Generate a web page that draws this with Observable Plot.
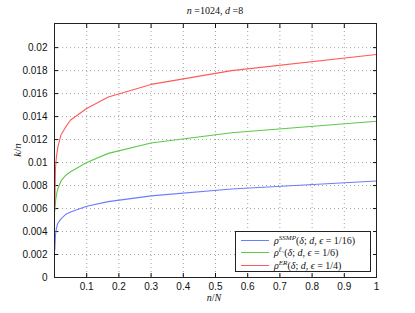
<!DOCTYPE html>
<html><head><meta charset="utf-8">
<script src="https://cdn.jsdelivr.net/npm/d3@7"></script>
<script src="https://cdn.jsdelivr.net/npm/@observablehq/plot@0.6"></script>
<style>
body{margin:0;background:#fff}
#wrap{position:relative;width:415px;height:313px;font-family:"Liberation Sans",Arial,sans-serif}
.math{font-family:"Liberation Serif","DejaVu Serif",serif;font-style:italic;position:absolute;white-space:nowrap;font-size:10px;color:#111}
.up{font-family:"Liberation Serif",serif;font-style:normal}
#legend{position:absolute;left:235px;top:231px;width:136px;height:41px;background:#fff;border:1px solid #222;box-sizing:border-box;font-family:"Liberation Serif","DejaVu Serif",serif;font-size:10px;color:#111}
.row{position:absolute;left:0;height:13px;display:flex;align-items:center;white-space:nowrap}
.sw{width:28px;height:0;border-top:1px solid;margin-left:5px;margin-right:5px}
sup{font-size:7px;position:relative;top:-4px;vertical-align:baseline;line-height:0}
</style></head><body><div id="wrap"></div>
<script>
// data
const delta = [0.001, 0.003, 0.006, 0.01, 0.02, 0.035, 0.05, 0.1, 0.167, 0.3, 0.55, 1];
const rhoSSMP = [0.0024, 0.0037, 0.0043, 0.0047, 0.0051, 0.0055, 0.0057, 0.0062, 0.0066, 0.0071, 0.0077, 0.0084];
const rhoL1   = [0.0058, 0.0066, 0.0072, 0.0077, 0.0084, 0.0089, 0.0092, 0.0100, 0.0108, 0.0117, 0.0126, 0.0136];
const rhoER   = [0.0062, 0.0095, 0.0105, 0.0113, 0.0124, 0.0131, 0.0137, 0.0147, 0.0157, 0.0168, 0.0180, 0.0194];
const seriesNames = ["SSMP", "l1", "ER"];
const seriesColors = ["#6b7cff", "#5cc94a", "#ff5a5a"];
const xTicks = [0.1, 0.2, 0.3, 0.4, 0.5, 0.6, 0.7, 0.8, 0.9, 1];
const yTicks = [0, 0.002, 0.004, 0.006, 0.008, 0.01, 0.012, 0.014, 0.016, 0.018, 0.02];

const table = [];
[rhoSSMP, rhoL1, rhoER].forEach((arr, i) => arr.forEach((v, j) => table.push({series: seriesNames[i], x: delta[j], y: v})));

const fmt = d3.format("~g");
const none = () => "";
const grid = {stroke: "#999", strokeOpacity: 0.9, strokeDasharray: "1,3"};
const plot = Plot.plot({
  width: 415, height: 313,
  marginLeft: 54, marginRight: 39, marginTop: 23, marginBottom: 36,
  style: {fontFamily: "Liberation Sans, Arial, sans-serif", fontSize: "10px", color: "#111", background: "#fff"},
  x: {domain: [0, 1]},
  y: {domain: [0, 0.0221]},
  color: {domain: seriesNames, range: seriesColors},
  marks: [
    Plot.gridX(xTicks, grid),
    Plot.gridY(yTicks, grid),
    Plot.axisX(xTicks, {anchor: "bottom", tickSize: -4, tickPadding: 9, tickFormat: fmt, label: null, fontSize: 10}),
    Plot.axisX(xTicks, {anchor: "top", tickSize: -4, tickFormat: none, label: null}),
    Plot.axisY(yTicks, {anchor: "left", tickSize: -4, tickPadding: 11, tickFormat: fmt, label: null, fontSize: 10}),
    Plot.axisY(yTicks, {anchor: "right", tickSize: -4, tickFormat: none, label: null}),
    Plot.line(table, {x: "x", y: "y", z: "series", stroke: "series", strokeWidth: 1.1}),
    Plot.frame({stroke: "#222", strokeWidth: 1})
  ]
});
const wrap = document.getElementById("wrap");
wrap.appendChild(plot);

function addText(html, left, top, extra) {
  const d = document.createElement("div");
  d.className = "math";
  d.innerHTML = html;
  d.style.left = left + "px"; d.style.top = top + "px";
  if (extra) Object.assign(d.style, extra);
  wrap.appendChild(d);
  return d;
}
addText('n <span class="up">=1024,</span> d <span class="up">=8</span>', 215, 5, {transform: "translateX(-50%)"});
addText('n<span class="up">/</span>N', 214, 292, {transform: "translateX(-50%)"});
addText('k<span class="up">/</span>n', 17, 150, {transform: "translate(-50%,-50%) rotate(-90deg)", fontSize: "11px"});

const labels = [
  '<i>ρ</i><sup><i>SSMP</i></sup>(<i>δ</i>; <i>d</i>, <i>ϵ</i> = 1/16)',
  '<i>ρ</i><sup><i>ℓ</i>₁</sup>(<i>δ</i>; <i>d</i>, <i>ϵ</i> = 1/6)',
  '<i>ρ</i><sup><i>ER</i></sup>(<i>δ</i>; <i>d</i>, <i>ϵ</i> = 1/4)'
];
const leg = document.createElement("div");
leg.id = "legend";
labels.forEach((l, i) => {
  const r = document.createElement("div");
  r.className = "row";
  r.style.top = (2 + i * 12.3) + "px";
  r.innerHTML = `<span class="sw" style="border-color:${seriesColors[i]}"></span><span>${l}</span>`;
  leg.appendChild(r);
});
wrap.appendChild(leg);
</script></body></html>
